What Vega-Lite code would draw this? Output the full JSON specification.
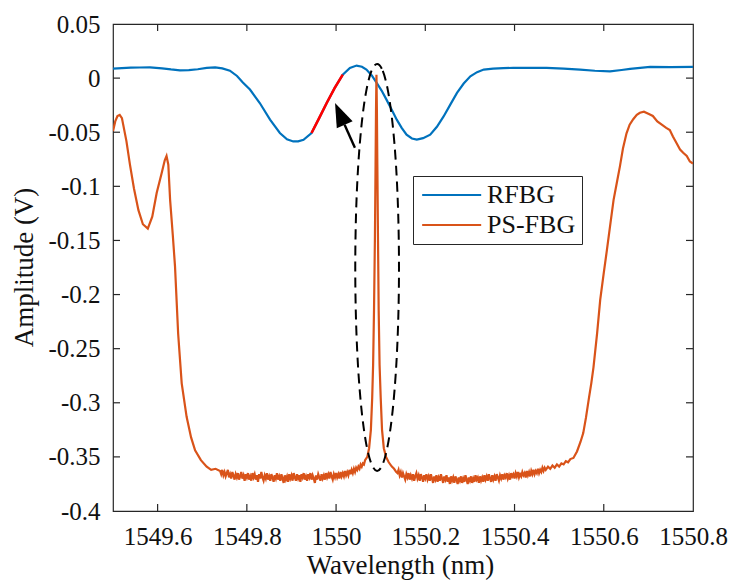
{
  "$schema": "https://vega.github.io/schema/vega-lite/v6.json",
  "autosize": "none",
  "width": 580,
  "height": 487,
  "padding": {"left": 113, "top": 24, "right": 38, "bottom": 70},
  "background": "white",
  "datasets": {
    "lines": [
      {"x": 1549.500, "y": 0.0088, "s": "RFBG"},
      {"x": 1549.520, "y": 0.0092, "s": "RFBG"},
      {"x": 1549.540, "y": 0.0096, "s": "RFBG"},
      {"x": 1549.560, "y": 0.0098, "s": "RFBG"},
      {"x": 1549.583, "y": 0.0100, "s": "RFBG"},
      {"x": 1549.610, "y": 0.0090, "s": "RFBG"},
      {"x": 1549.630, "y": 0.0080, "s": "RFBG"},
      {"x": 1549.650, "y": 0.0072, "s": "RFBG"},
      {"x": 1549.670, "y": 0.0074, "s": "RFBG"},
      {"x": 1549.690, "y": 0.0082, "s": "RFBG"},
      {"x": 1549.710, "y": 0.0095, "s": "RFBG"},
      {"x": 1549.729, "y": 0.0100, "s": "RFBG"},
      {"x": 1549.745, "y": 0.0090, "s": "RFBG"},
      {"x": 1549.762, "y": 0.0069, "s": "RFBG"},
      {"x": 1549.778, "y": 0.0020, "s": "RFBG"},
      {"x": 1549.791, "y": -0.0040, "s": "RFBG"},
      {"x": 1549.807, "y": -0.0106, "s": "RFBG"},
      {"x": 1549.829, "y": -0.0230, "s": "RFBG"},
      {"x": 1549.852, "y": -0.0384, "s": "RFBG"},
      {"x": 1549.874, "y": -0.0507, "s": "RFBG"},
      {"x": 1549.890, "y": -0.0565, "s": "RFBG"},
      {"x": 1549.904, "y": -0.0585, "s": "RFBG"},
      {"x": 1549.915, "y": -0.0585, "s": "RFBG"},
      {"x": 1549.927, "y": -0.0570, "s": "RFBG"},
      {"x": 1549.945, "y": -0.0507, "s": "RFBG"},
      {"x": 1549.962, "y": -0.0370, "s": "RFBG"},
      {"x": 1549.979, "y": -0.0230, "s": "RFBG"},
      {"x": 1549.997, "y": -0.0090, "s": "RFBG"},
      {"x": 1550.015, "y": 0.0032, "s": "RFBG"},
      {"x": 1550.031, "y": 0.0094, "s": "RFBG"},
      {"x": 1550.046, "y": 0.0116, "s": "RFBG"},
      {"x": 1550.058, "y": 0.0105, "s": "RFBG"},
      {"x": 1550.068, "y": 0.0079, "s": "RFBG"},
      {"x": 1550.080, "y": 0.0025, "s": "RFBG"},
      {"x": 1550.091, "y": -0.0044, "s": "RFBG"},
      {"x": 1550.102, "y": -0.0115, "s": "RFBG"},
      {"x": 1550.113, "y": -0.0199, "s": "RFBG"},
      {"x": 1550.125, "y": -0.0295, "s": "RFBG"},
      {"x": 1550.136, "y": -0.0384, "s": "RFBG"},
      {"x": 1550.147, "y": -0.0460, "s": "RFBG"},
      {"x": 1550.158, "y": -0.0523, "s": "RFBG"},
      {"x": 1550.170, "y": -0.0558, "s": "RFBG"},
      {"x": 1550.181, "y": -0.0569, "s": "RFBG"},
      {"x": 1550.195, "y": -0.0555, "s": "RFBG"},
      {"x": 1550.211, "y": -0.0523, "s": "RFBG"},
      {"x": 1550.226, "y": -0.0450, "s": "RFBG"},
      {"x": 1550.241, "y": -0.0354, "s": "RFBG"},
      {"x": 1550.256, "y": -0.0245, "s": "RFBG"},
      {"x": 1550.271, "y": -0.0137, "s": "RFBG"},
      {"x": 1550.286, "y": -0.0050, "s": "RFBG"},
      {"x": 1550.301, "y": 0.0017, "s": "RFBG"},
      {"x": 1550.316, "y": 0.0055, "s": "RFBG"},
      {"x": 1550.331, "y": 0.0079, "s": "RFBG"},
      {"x": 1550.352, "y": 0.0087, "s": "RFBG"},
      {"x": 1550.375, "y": 0.0093, "s": "RFBG"},
      {"x": 1550.397, "y": 0.0094, "s": "RFBG"},
      {"x": 1550.435, "y": 0.0095, "s": "RFBG"},
      {"x": 1550.472, "y": 0.0094, "s": "RFBG"},
      {"x": 1550.510, "y": 0.0088, "s": "RFBG"},
      {"x": 1550.547, "y": 0.0079, "s": "RFBG"},
      {"x": 1550.580, "y": 0.0068, "s": "RFBG"},
      {"x": 1550.614, "y": 0.0063, "s": "RFBG"},
      {"x": 1550.640, "y": 0.0075, "s": "RFBG"},
      {"x": 1550.659, "y": 0.0085, "s": "RFBG"},
      {"x": 1550.704, "y": 0.0104, "s": "RFBG"},
      {"x": 1550.750, "y": 0.0102, "s": "RFBG"},
      {"x": 1550.800, "y": 0.0104, "s": "RFBG"},

      {"x": 1549.500, "y": -0.049, "s": "PS-FBG"},
      {"x": 1549.505, "y": -0.040, "s": "PS-FBG"},
      {"x": 1549.510, "y": -0.035, "s": "PS-FBG"},
      {"x": 1549.515, "y": -0.034, "s": "PS-FBG"},
      {"x": 1549.520, "y": -0.037, "s": "PS-FBG"},
      {"x": 1549.530, "y": -0.058, "s": "PS-FBG"},
      {"x": 1549.538, "y": -0.080, "s": "PS-FBG"},
      {"x": 1549.547, "y": -0.102, "s": "PS-FBG"},
      {"x": 1549.557, "y": -0.122, "s": "PS-FBG"},
      {"x": 1549.567, "y": -0.135, "s": "PS-FBG"},
      {"x": 1549.578, "y": -0.139, "s": "PS-FBG"},
      {"x": 1549.588, "y": -0.128, "s": "PS-FBG"},
      {"x": 1549.598, "y": -0.106, "s": "PS-FBG"},
      {"x": 1549.609, "y": -0.088, "s": "PS-FBG"},
      {"x": 1549.616, "y": -0.076, "s": "PS-FBG"},
      {"x": 1549.620, "y": -0.072, "s": "PS-FBG"},
      {"x": 1549.624, "y": -0.080, "s": "PS-FBG"},
      {"x": 1549.628, "y": -0.1125, "s": "PS-FBG"},
      {"x": 1549.634, "y": -0.145, "s": "PS-FBG"},
      {"x": 1549.639, "y": -0.174, "s": "PS-FBG"},
      {"x": 1549.646, "y": -0.236, "s": "PS-FBG"},
      {"x": 1549.654, "y": -0.282, "s": "PS-FBG"},
      {"x": 1549.665, "y": -0.313, "s": "PS-FBG"},
      {"x": 1549.675, "y": -0.332, "s": "PS-FBG"},
      {"x": 1549.684, "y": -0.344, "s": "PS-FBG"},
      {"x": 1549.697, "y": -0.353, "s": "PS-FBG"},
      {"x": 1549.710, "y": -0.359, "s": "PS-FBG"},
      {"x": 1549.720, "y": -0.362, "s": "PS-FBG"},
      {"x": 1549.730, "y": -0.361, "s": "PS-FBG"},
      {"x": 1549.7400, "y": -0.363, "s": "PS-FBG"},
      {"x": 1549.7425, "y": -0.366, "s": "PS-FBG"},
      {"x": 1549.7450, "y": -0.362, "s": "PS-FBG"},
      {"x": 1549.7475, "y": -0.367, "s": "PS-FBG"},
      {"x": 1549.7500, "y": -0.364, "s": "PS-FBG"},
      {"x": 1549.7525, "y": -0.368, "s": "PS-FBG"},
      {"x": 1549.7550, "y": -0.365, "s": "PS-FBG"},
      {"x": 1549.7575, "y": -0.362, "s": "PS-FBG"},
      {"x": 1549.7600, "y": -0.369, "s": "PS-FBG"},
      {"x": 1549.7625, "y": -0.366, "s": "PS-FBG"},
      {"x": 1549.7650, "y": -0.370, "s": "PS-FBG"},
      {"x": 1549.7675, "y": -0.364, "s": "PS-FBG"},
      {"x": 1549.7700, "y": -0.367, "s": "PS-FBG"},
      {"x": 1549.7725, "y": -0.371, "s": "PS-FBG"},
      {"x": 1549.7750, "y": -0.366, "s": "PS-FBG"},
      {"x": 1549.7775, "y": -0.369, "s": "PS-FBG"},
      {"x": 1549.7800, "y": -0.365, "s": "PS-FBG"},
      {"x": 1549.7825, "y": -0.371, "s": "PS-FBG"},
      {"x": 1549.7850, "y": -0.368, "s": "PS-FBG"},
      {"x": 1549.7875, "y": -0.364, "s": "PS-FBG"},
      {"x": 1549.7900, "y": -0.370, "s": "PS-FBG"},
      {"x": 1549.7925, "y": -0.367, "s": "PS-FBG"},
      {"x": 1549.7950, "y": -0.372, "s": "PS-FBG"},
      {"x": 1549.7975, "y": -0.366, "s": "PS-FBG"},
      {"x": 1549.8000, "y": -0.369, "s": "PS-FBG"},
      {"x": 1549.8025, "y": -0.365, "s": "PS-FBG"},
      {"x": 1549.8050, "y": -0.371, "s": "PS-FBG"},
      {"x": 1549.8075, "y": -0.368, "s": "PS-FBG"},
      {"x": 1549.8100, "y": -0.372, "s": "PS-FBG"},
      {"x": 1549.8125, "y": -0.365, "s": "PS-FBG"},
      {"x": 1549.8150, "y": -0.369, "s": "PS-FBG"},
      {"x": 1549.8175, "y": -0.366, "s": "PS-FBG"},
      {"x": 1549.8200, "y": -0.371, "s": "PS-FBG"},
      {"x": 1549.8225, "y": -0.367, "s": "PS-FBG"},
      {"x": 1549.8250, "y": -0.373, "s": "PS-FBG"},
      {"x": 1549.8275, "y": -0.366, "s": "PS-FBG"},
      {"x": 1549.8300, "y": -0.370, "s": "PS-FBG"},
      {"x": 1549.8325, "y": -0.364, "s": "PS-FBG"},
      {"x": 1549.8350, "y": -0.369, "s": "PS-FBG"},
      {"x": 1549.8375, "y": -0.372, "s": "PS-FBG"},
      {"x": 1549.8400, "y": -0.367, "s": "PS-FBG"},
      {"x": 1549.8425, "y": -0.370, "s": "PS-FBG"},
      {"x": 1549.8450, "y": -0.365, "s": "PS-FBG"},
      {"x": 1549.8475, "y": -0.371, "s": "PS-FBG"},
      {"x": 1549.8500, "y": -0.368, "s": "PS-FBG"},
      {"x": 1549.8525, "y": -0.372, "s": "PS-FBG"},
      {"x": 1549.8550, "y": -0.366, "s": "PS-FBG"},
      {"x": 1549.8575, "y": -0.369, "s": "PS-FBG"},
      {"x": 1549.8600, "y": -0.373, "s": "PS-FBG"},
      {"x": 1549.8625, "y": -0.367, "s": "PS-FBG"},
      {"x": 1549.8650, "y": -0.370, "s": "PS-FBG"},
      {"x": 1549.8675, "y": -0.365, "s": "PS-FBG"},
      {"x": 1549.8700, "y": -0.371, "s": "PS-FBG"},
      {"x": 1549.8725, "y": -0.368, "s": "PS-FBG"},
      {"x": 1549.8750, "y": -0.372, "s": "PS-FBG"},
      {"x": 1549.8775, "y": -0.366, "s": "PS-FBG"},
      {"x": 1549.8800, "y": -0.370, "s": "PS-FBG"},
      {"x": 1549.8825, "y": -0.374, "s": "PS-FBG"},
      {"x": 1549.8850, "y": -0.367, "s": "PS-FBG"},
      {"x": 1549.8875, "y": -0.371, "s": "PS-FBG"},
      {"x": 1549.8900, "y": -0.368, "s": "PS-FBG"},
      {"x": 1549.8925, "y": -0.373, "s": "PS-FBG"},
      {"x": 1549.8950, "y": -0.366, "s": "PS-FBG"},
      {"x": 1549.8975, "y": -0.370, "s": "PS-FBG"},
      {"x": 1549.9000, "y": -0.367, "s": "PS-FBG"},
      {"x": 1549.9025, "y": -0.372, "s": "PS-FBG"},
      {"x": 1549.9050, "y": -0.365, "s": "PS-FBG"},
      {"x": 1549.9075, "y": -0.369, "s": "PS-FBG"},
      {"x": 1549.9100, "y": -0.372, "s": "PS-FBG"},
      {"x": 1549.9125, "y": -0.366, "s": "PS-FBG"},
      {"x": 1549.9150, "y": -0.370, "s": "PS-FBG"},
      {"x": 1549.9175, "y": -0.367, "s": "PS-FBG"},
      {"x": 1549.9200, "y": -0.373, "s": "PS-FBG"},
      {"x": 1549.9225, "y": -0.366, "s": "PS-FBG"},
      {"x": 1549.9250, "y": -0.369, "s": "PS-FBG"},
      {"x": 1549.9275, "y": -0.365, "s": "PS-FBG"},
      {"x": 1549.9300, "y": -0.371, "s": "PS-FBG"},
      {"x": 1549.9325, "y": -0.368, "s": "PS-FBG"},
      {"x": 1549.9350, "y": -0.372, "s": "PS-FBG"},
      {"x": 1549.9375, "y": -0.366, "s": "PS-FBG"},
      {"x": 1549.9400, "y": -0.369, "s": "PS-FBG"},
      {"x": 1549.9425, "y": -0.365, "s": "PS-FBG"},
      {"x": 1549.9450, "y": -0.371, "s": "PS-FBG"},
      {"x": 1549.9475, "y": -0.367, "s": "PS-FBG"},
      {"x": 1549.9500, "y": -0.370, "s": "PS-FBG"},
      {"x": 1549.9525, "y": -0.374, "s": "PS-FBG"},
      {"x": 1549.9550, "y": -0.367, "s": "PS-FBG"},
      {"x": 1549.9575, "y": -0.371, "s": "PS-FBG"},
      {"x": 1549.9600, "y": -0.366, "s": "PS-FBG"},
      {"x": 1549.9625, "y": -0.369, "s": "PS-FBG"},
      {"x": 1549.9650, "y": -0.372, "s": "PS-FBG"},
      {"x": 1549.9675, "y": -0.366, "s": "PS-FBG"},
      {"x": 1549.9700, "y": -0.370, "s": "PS-FBG"},
      {"x": 1549.9725, "y": -0.367, "s": "PS-FBG"},
      {"x": 1549.9750, "y": -0.371, "s": "PS-FBG"},
      {"x": 1549.9775, "y": -0.365, "s": "PS-FBG"},
      {"x": 1549.9800, "y": -0.369, "s": "PS-FBG"},
      {"x": 1549.9825, "y": -0.366, "s": "PS-FBG"},
      {"x": 1549.9850, "y": -0.370, "s": "PS-FBG"},
      {"x": 1549.9875, "y": -0.364, "s": "PS-FBG"},
      {"x": 1549.9900, "y": -0.368, "s": "PS-FBG"},
      {"x": 1549.9925, "y": -0.371, "s": "PS-FBG"},
      {"x": 1549.9950, "y": -0.366, "s": "PS-FBG"},
      {"x": 1549.9975, "y": -0.369, "s": "PS-FBG"},
      {"x": 1550.0000, "y": -0.365, "s": "PS-FBG"},
      {"x": 1550.0025, "y": -0.369, "s": "PS-FBG"},
      {"x": 1550.0050, "y": -0.366, "s": "PS-FBG"},
      {"x": 1550.0075, "y": -0.370, "s": "PS-FBG"},
      {"x": 1550.0100, "y": -0.364, "s": "PS-FBG"},
      {"x": 1550.0125, "y": -0.368, "s": "PS-FBG"},
      {"x": 1550.0150, "y": -0.365, "s": "PS-FBG"},
      {"x": 1550.0175, "y": -0.368, "s": "PS-FBG"},
      {"x": 1550.0200, "y": -0.363, "s": "PS-FBG"},
      {"x": 1550.0225, "y": -0.367, "s": "PS-FBG"},
      {"x": 1550.0250, "y": -0.364, "s": "PS-FBG"},
      {"x": 1550.0275, "y": -0.367, "s": "PS-FBG"},
      {"x": 1550.0300, "y": -0.362, "s": "PS-FBG"},
      {"x": 1550.0325, "y": -0.366, "s": "PS-FBG"},
      {"x": 1550.0350, "y": -0.362, "s": "PS-FBG"},
      {"x": 1550.0375, "y": -0.365, "s": "PS-FBG"},
      {"x": 1550.0400, "y": -0.361, "s": "PS-FBG"},
      {"x": 1550.0425, "y": -0.364, "s": "PS-FBG"},
      {"x": 1550.0450, "y": -0.360, "s": "PS-FBG"},
      {"x": 1550.0475, "y": -0.362, "s": "PS-FBG"},
      {"x": 1550.0500, "y": -0.359, "s": "PS-FBG"},
      {"x": 1550.0525, "y": -0.361, "s": "PS-FBG"},
      {"x": 1550.0550, "y": -0.357, "s": "PS-FBG"},
      {"x": 1550.0575, "y": -0.359, "s": "PS-FBG"},
      {"x": 1550.0600, "y": -0.356, "s": "PS-FBG"},
      {"x": 1550.0625, "y": -0.357, "s": "PS-FBG"},
      {"x": 1550.0650, "y": -0.353, "s": "PS-FBG"},
      {"x": 1550.070, "y": -0.350, "s": "PS-FBG"},
      {"x": 1550.074, "y": -0.342, "s": "PS-FBG"},
      {"x": 1550.078, "y": -0.325, "s": "PS-FBG"},
      {"x": 1550.081, "y": -0.295, "s": "PS-FBG"},
      {"x": 1550.083, "y": -0.265, "s": "PS-FBG"},
      {"x": 1550.085, "y": -0.215, "s": "PS-FBG"},
      {"x": 1550.087, "y": -0.150, "s": "PS-FBG"},
      {"x": 1550.0885, "y": -0.080, "s": "PS-FBG"},
      {"x": 1550.0895, "y": -0.030, "s": "PS-FBG"},
      {"x": 1550.0905, "y": 0.003, "s": "PS-FBG"},
      {"x": 1550.0915, "y": -0.030, "s": "PS-FBG"},
      {"x": 1550.0925, "y": -0.080, "s": "PS-FBG"},
      {"x": 1550.094, "y": -0.150, "s": "PS-FBG"},
      {"x": 1550.0955, "y": -0.215, "s": "PS-FBG"},
      {"x": 1550.0975, "y": -0.265, "s": "PS-FBG"},
      {"x": 1550.100, "y": -0.295, "s": "PS-FBG"},
      {"x": 1550.103, "y": -0.325, "s": "PS-FBG"},
      {"x": 1550.107, "y": -0.342, "s": "PS-FBG"},
      {"x": 1550.112, "y": -0.350, "s": "PS-FBG"},
      {"x": 1550.118, "y": -0.355, "s": "PS-FBG"},
      {"x": 1550.125, "y": -0.359, "s": "PS-FBG"},
      {"x": 1550.130, "y": -0.361, "s": "PS-FBG"},
      {"x": 1550.1350, "y": -0.364, "s": "PS-FBG"},
      {"x": 1550.1375, "y": -0.365, "s": "PS-FBG"},
      {"x": 1550.1400, "y": -0.362, "s": "PS-FBG"},
      {"x": 1550.1425, "y": -0.367, "s": "PS-FBG"},
      {"x": 1550.1450, "y": -0.364, "s": "PS-FBG"},
      {"x": 1550.1475, "y": -0.369, "s": "PS-FBG"},
      {"x": 1550.1500, "y": -0.365, "s": "PS-FBG"},
      {"x": 1550.1525, "y": -0.368, "s": "PS-FBG"},
      {"x": 1550.1550, "y": -0.371, "s": "PS-FBG"},
      {"x": 1550.1575, "y": -0.366, "s": "PS-FBG"},
      {"x": 1550.1600, "y": -0.369, "s": "PS-FBG"},
      {"x": 1550.1625, "y": -0.365, "s": "PS-FBG"},
      {"x": 1550.1650, "y": -0.371, "s": "PS-FBG"},
      {"x": 1550.1675, "y": -0.367, "s": "PS-FBG"},
      {"x": 1550.1700, "y": -0.370, "s": "PS-FBG"},
      {"x": 1550.1725, "y": -0.366, "s": "PS-FBG"},
      {"x": 1550.1750, "y": -0.372, "s": "PS-FBG"},
      {"x": 1550.1775, "y": -0.368, "s": "PS-FBG"},
      {"x": 1550.1800, "y": -0.365, "s": "PS-FBG"},
      {"x": 1550.1825, "y": -0.370, "s": "PS-FBG"},
      {"x": 1550.1850, "y": -0.367, "s": "PS-FBG"},
      {"x": 1550.1875, "y": -0.372, "s": "PS-FBG"},
      {"x": 1550.1900, "y": -0.366, "s": "PS-FBG"},
      {"x": 1550.1925, "y": -0.369, "s": "PS-FBG"},
      {"x": 1550.1950, "y": -0.373, "s": "PS-FBG"},
      {"x": 1550.1975, "y": -0.367, "s": "PS-FBG"},
      {"x": 1550.2000, "y": -0.370, "s": "PS-FBG"},
      {"x": 1550.2025, "y": -0.366, "s": "PS-FBG"},
      {"x": 1550.2050, "y": -0.371, "s": "PS-FBG"},
      {"x": 1550.2075, "y": -0.368, "s": "PS-FBG"},
      {"x": 1550.2100, "y": -0.372, "s": "PS-FBG"},
      {"x": 1550.2125, "y": -0.366, "s": "PS-FBG"},
      {"x": 1550.2150, "y": -0.370, "s": "PS-FBG"},
      {"x": 1550.2175, "y": -0.374, "s": "PS-FBG"},
      {"x": 1550.2200, "y": -0.368, "s": "PS-FBG"},
      {"x": 1550.2225, "y": -0.371, "s": "PS-FBG"},
      {"x": 1550.2250, "y": -0.367, "s": "PS-FBG"},
      {"x": 1550.2275, "y": -0.373, "s": "PS-FBG"},
      {"x": 1550.2300, "y": -0.369, "s": "PS-FBG"},
      {"x": 1550.2325, "y": -0.372, "s": "PS-FBG"},
      {"x": 1550.2350, "y": -0.366, "s": "PS-FBG"},
      {"x": 1550.2375, "y": -0.370, "s": "PS-FBG"},
      {"x": 1550.2400, "y": -0.374, "s": "PS-FBG"},
      {"x": 1550.2425, "y": -0.368, "s": "PS-FBG"},
      {"x": 1550.2450, "y": -0.371, "s": "PS-FBG"},
      {"x": 1550.2475, "y": -0.367, "s": "PS-FBG"},
      {"x": 1550.2500, "y": -0.373, "s": "PS-FBG"},
      {"x": 1550.2525, "y": -0.369, "s": "PS-FBG"},
      {"x": 1550.2550, "y": -0.375, "s": "PS-FBG"},
      {"x": 1550.2575, "y": -0.368, "s": "PS-FBG"},
      {"x": 1550.2600, "y": -0.372, "s": "PS-FBG"},
      {"x": 1550.2625, "y": -0.369, "s": "PS-FBG"},
      {"x": 1550.2650, "y": -0.374, "s": "PS-FBG"},
      {"x": 1550.2675, "y": -0.368, "s": "PS-FBG"},
      {"x": 1550.2700, "y": -0.371, "s": "PS-FBG"},
      {"x": 1550.2725, "y": -0.375, "s": "PS-FBG"},
      {"x": 1550.2750, "y": -0.369, "s": "PS-FBG"},
      {"x": 1550.2775, "y": -0.372, "s": "PS-FBG"},
      {"x": 1550.2800, "y": -0.368, "s": "PS-FBG"},
      {"x": 1550.2825, "y": -0.374, "s": "PS-FBG"},
      {"x": 1550.2850, "y": -0.370, "s": "PS-FBG"},
      {"x": 1550.2875, "y": -0.373, "s": "PS-FBG"},
      {"x": 1550.2900, "y": -0.367, "s": "PS-FBG"},
      {"x": 1550.2925, "y": -0.371, "s": "PS-FBG"},
      {"x": 1550.2950, "y": -0.375, "s": "PS-FBG"},
      {"x": 1550.2975, "y": -0.369, "s": "PS-FBG"},
      {"x": 1550.3000, "y": -0.372, "s": "PS-FBG"},
      {"x": 1550.3025, "y": -0.368, "s": "PS-FBG"},
      {"x": 1550.3050, "y": -0.374, "s": "PS-FBG"},
      {"x": 1550.3075, "y": -0.370, "s": "PS-FBG"},
      {"x": 1550.3100, "y": -0.373, "s": "PS-FBG"},
      {"x": 1550.3125, "y": -0.367, "s": "PS-FBG"},
      {"x": 1550.3150, "y": -0.371, "s": "PS-FBG"},
      {"x": 1550.3175, "y": -0.369, "s": "PS-FBG"},
      {"x": 1550.3200, "y": -0.374, "s": "PS-FBG"},
      {"x": 1550.3225, "y": -0.368, "s": "PS-FBG"},
      {"x": 1550.3250, "y": -0.372, "s": "PS-FBG"},
      {"x": 1550.3275, "y": -0.369, "s": "PS-FBG"},
      {"x": 1550.3300, "y": -0.373, "s": "PS-FBG"},
      {"x": 1550.3325, "y": -0.367, "s": "PS-FBG"},
      {"x": 1550.3350, "y": -0.371, "s": "PS-FBG"},
      {"x": 1550.3375, "y": -0.368, "s": "PS-FBG"},
      {"x": 1550.3400, "y": -0.372, "s": "PS-FBG"},
      {"x": 1550.3425, "y": -0.366, "s": "PS-FBG"},
      {"x": 1550.3450, "y": -0.370, "s": "PS-FBG"},
      {"x": 1550.3475, "y": -0.373, "s": "PS-FBG"},
      {"x": 1550.3500, "y": -0.367, "s": "PS-FBG"},
      {"x": 1550.3525, "y": -0.371, "s": "PS-FBG"},
      {"x": 1550.3550, "y": -0.368, "s": "PS-FBG"},
      {"x": 1550.3575, "y": -0.372, "s": "PS-FBG"},
      {"x": 1550.3600, "y": -0.366, "s": "PS-FBG"},
      {"x": 1550.3625, "y": -0.369, "s": "PS-FBG"},
      {"x": 1550.3650, "y": -0.372, "s": "PS-FBG"},
      {"x": 1550.3675, "y": -0.367, "s": "PS-FBG"},
      {"x": 1550.3700, "y": -0.370, "s": "PS-FBG"},
      {"x": 1550.3725, "y": -0.366, "s": "PS-FBG"},
      {"x": 1550.3750, "y": -0.371, "s": "PS-FBG"},
      {"x": 1550.3775, "y": -0.367, "s": "PS-FBG"},
      {"x": 1550.3800, "y": -0.369, "s": "PS-FBG"},
      {"x": 1550.3825, "y": -0.365, "s": "PS-FBG"},
      {"x": 1550.3850, "y": -0.370, "s": "PS-FBG"},
      {"x": 1550.3875, "y": -0.367, "s": "PS-FBG"},
      {"x": 1550.3900, "y": -0.371, "s": "PS-FBG"},
      {"x": 1550.3925, "y": -0.365, "s": "PS-FBG"},
      {"x": 1550.3950, "y": -0.368, "s": "PS-FBG"},
      {"x": 1550.3975, "y": -0.366, "s": "PS-FBG"},
      {"x": 1550.4000, "y": -0.370, "s": "PS-FBG"},
      {"x": 1550.4025, "y": -0.365, "s": "PS-FBG"},
      {"x": 1550.4050, "y": -0.368, "s": "PS-FBG"},
      {"x": 1550.4075, "y": -0.364, "s": "PS-FBG"},
      {"x": 1550.4100, "y": -0.369, "s": "PS-FBG"},
      {"x": 1550.4125, "y": -0.366, "s": "PS-FBG"},
      {"x": 1550.4150, "y": -0.368, "s": "PS-FBG"},
      {"x": 1550.4175, "y": -0.364, "s": "PS-FBG"},
      {"x": 1550.4200, "y": -0.367, "s": "PS-FBG"},
      {"x": 1550.4225, "y": -0.365, "s": "PS-FBG"},
      {"x": 1550.4250, "y": -0.369, "s": "PS-FBG"},
      {"x": 1550.4275, "y": -0.363, "s": "PS-FBG"},
      {"x": 1550.4300, "y": -0.367, "s": "PS-FBG"},
      {"x": 1550.4325, "y": -0.364, "s": "PS-FBG"},
      {"x": 1550.4350, "y": -0.368, "s": "PS-FBG"},
      {"x": 1550.4375, "y": -0.363, "s": "PS-FBG"},
      {"x": 1550.4400, "y": -0.366, "s": "PS-FBG"},
      {"x": 1550.4425, "y": -0.362, "s": "PS-FBG"},
      {"x": 1550.4450, "y": -0.366, "s": "PS-FBG"},
      {"x": 1550.4475, "y": -0.363, "s": "PS-FBG"},
      {"x": 1550.4500, "y": -0.365, "s": "PS-FBG"},
      {"x": 1550.4525, "y": -0.361, "s": "PS-FBG"},
      {"x": 1550.4550, "y": -0.365, "s": "PS-FBG"},
      {"x": 1550.4575, "y": -0.362, "s": "PS-FBG"},
      {"x": 1550.4600, "y": -0.364, "s": "PS-FBG"},
      {"x": 1550.4625, "y": -0.360, "s": "PS-FBG"},
      {"x": 1550.4650, "y": -0.363, "s": "PS-FBG"},
      {"x": 1550.4675, "y": -0.360, "s": "PS-FBG"},
      {"x": 1550.4700, "y": -0.362, "s": "PS-FBG"},
      {"x": 1550.4750, "y": -0.359, "s": "PS-FBG"},
      {"x": 1550.4800, "y": -0.361, "s": "PS-FBG"},
      {"x": 1550.4850, "y": -0.358, "s": "PS-FBG"},
      {"x": 1550.4900, "y": -0.360, "s": "PS-FBG"},
      {"x": 1550.4950, "y": -0.357, "s": "PS-FBG"},
      {"x": 1550.5000, "y": -0.359, "s": "PS-FBG"},
      {"x": 1550.5050, "y": -0.356, "s": "PS-FBG"},
      {"x": 1550.5100, "y": -0.357, "s": "PS-FBG"},
      {"x": 1550.5150, "y": -0.354, "s": "PS-FBG"},
      {"x": 1550.5200, "y": -0.355, "s": "PS-FBG"},
      {"x": 1550.5250, "y": -0.352, "s": "PS-FBG"},
      {"x": 1550.532, "y": -0.351, "s": "PS-FBG"},
      {"x": 1550.540, "y": -0.345, "s": "PS-FBG"},
      {"x": 1550.548, "y": -0.336, "s": "PS-FBG"},
      {"x": 1550.554, "y": -0.328, "s": "PS-FBG"},
      {"x": 1550.560, "y": -0.314, "s": "PS-FBG"},
      {"x": 1550.567, "y": -0.295, "s": "PS-FBG"},
      {"x": 1550.572, "y": -0.282, "s": "PS-FBG"},
      {"x": 1550.577, "y": -0.267, "s": "PS-FBG"},
      {"x": 1550.585, "y": -0.236, "s": "PS-FBG"},
      {"x": 1550.592, "y": -0.205, "s": "PS-FBG"},
      {"x": 1550.600, "y": -0.180, "s": "PS-FBG"},
      {"x": 1550.607, "y": -0.159, "s": "PS-FBG"},
      {"x": 1550.615, "y": -0.134, "s": "PS-FBG"},
      {"x": 1550.622, "y": -0.1125, "s": "PS-FBG"},
      {"x": 1550.630, "y": -0.095, "s": "PS-FBG"},
      {"x": 1550.636, "y": -0.082, "s": "PS-FBG"},
      {"x": 1550.643, "y": -0.065, "s": "PS-FBG"},
      {"x": 1550.651, "y": -0.051, "s": "PS-FBG"},
      {"x": 1550.658, "y": -0.043, "s": "PS-FBG"},
      {"x": 1550.666, "y": -0.038, "s": "PS-FBG"},
      {"x": 1550.674, "y": -0.034, "s": "PS-FBG"},
      {"x": 1550.681, "y": -0.032, "s": "PS-FBG"},
      {"x": 1550.690, "y": -0.031, "s": "PS-FBG"},
      {"x": 1550.700, "y": -0.033, "s": "PS-FBG"},
      {"x": 1550.710, "y": -0.035, "s": "PS-FBG"},
      {"x": 1550.720, "y": -0.040, "s": "PS-FBG"},
      {"x": 1550.730, "y": -0.043, "s": "PS-FBG"},
      {"x": 1550.740, "y": -0.046, "s": "PS-FBG"},
      {"x": 1550.748, "y": -0.048, "s": "PS-FBG"},
      {"x": 1550.755, "y": -0.054, "s": "PS-FBG"},
      {"x": 1550.763, "y": -0.060, "s": "PS-FBG"},
      {"x": 1550.771, "y": -0.066, "s": "PS-FBG"},
      {"x": 1550.778, "y": -0.069, "s": "PS-FBG"},
      {"x": 1550.786, "y": -0.072, "s": "PS-FBG"},
      {"x": 1550.793, "y": -0.077, "s": "PS-FBG"},
      {"x": 1550.800, "y": -0.079, "s": "PS-FBG"}
    ],
    "red": [
      {"x": 1549.945, "y": -0.0507},
      {"x": 1549.962, "y": -0.0370},
      {"x": 1549.979, "y": -0.0230},
      {"x": 1549.997, "y": -0.0090},
      {"x": 1550.015, "y": 0.0032}
    ],
    "ellipse": [
      {"i": 0, "x": 1550.0920, "y": 0.0130},
      {"i": 1, "x": 1550.1047, "y": 0.0066},
      {"i": 2, "x": 1550.1165, "y": -0.0122},
      {"i": 3, "x": 1550.1266, "y": -0.0421},
      {"i": 4, "x": 1550.1344, "y": -0.0810},
      {"i": 5, "x": 1550.1393, "y": -0.1263},
      {"i": 6, "x": 1550.1410, "y": -0.1750},
      {"i": 7, "x": 1550.1393, "y": -0.2237},
      {"i": 8, "x": 1550.1344, "y": -0.2690},
      {"i": 9, "x": 1550.1266, "y": -0.3079},
      {"i": 10, "x": 1550.1165, "y": -0.3378},
      {"i": 11, "x": 1550.1047, "y": -0.3566},
      {"i": 12, "x": 1550.0920, "y": -0.3630},
      {"i": 13, "x": 1550.0793, "y": -0.3566},
      {"i": 14, "x": 1550.0675, "y": -0.3378},
      {"i": 15, "x": 1550.0574, "y": -0.3079},
      {"i": 16, "x": 1550.0496, "y": -0.2690},
      {"i": 17, "x": 1550.0447, "y": -0.2237},
      {"i": 18, "x": 1550.0430, "y": -0.1750},
      {"i": 19, "x": 1550.0447, "y": -0.1263},
      {"i": 20, "x": 1550.0496, "y": -0.0810},
      {"i": 21, "x": 1550.0574, "y": -0.0421},
      {"i": 22, "x": 1550.0675, "y": -0.0122},
      {"i": 23, "x": 1550.0793, "y": 0.0066}
    ],
    "arrow": [
      {"x": 1550.0191, "y": -0.0431, "x2": 1550.0422, "y2": -0.0644}
    ],
    "head": [
      {"x": 1550.0085, "y": -0.0330}
    ],
    "xticks": [
      {"x": 1549.6, "y": -0.4}, {"x": 1549.8, "y": -0.4}, {"x": 1550.0, "y": -0.4},
      {"x": 1550.2, "y": -0.4}, {"x": 1550.4, "y": -0.4}, {"x": 1550.6, "y": -0.4},
      {"x": 1549.6, "y": 0.05}, {"x": 1549.8, "y": 0.05}, {"x": 1550.0, "y": 0.05},
      {"x": 1550.2, "y": 0.05}, {"x": 1550.4, "y": 0.05}, {"x": 1550.6, "y": 0.05}
    ],
    "yticks": [
      {"x": 1549.5, "y": -0.35}, {"x": 1549.5, "y": -0.3}, {"x": 1549.5, "y": -0.25},
      {"x": 1549.5, "y": -0.2}, {"x": 1549.5, "y": -0.15}, {"x": 1549.5, "y": -0.1},
      {"x": 1549.5, "y": -0.05}, {"x": 1549.5, "y": 0},
      {"x": 1550.8, "y": -0.35}, {"x": 1550.8, "y": -0.3}, {"x": 1550.8, "y": -0.25},
      {"x": 1550.8, "y": -0.2}, {"x": 1550.8, "y": -0.15}, {"x": 1550.8, "y": -0.1},
      {"x": 1550.8, "y": -0.05}, {"x": 1550.8, "y": 0}
    ]
  },
  "layer": [
    {
      "data": {"name": "lines"},
      "mark": {"type": "line", "strokeWidth": 2.2, "clip": true},
      "encoding": {
        "x": {
          "field": "x", "type": "quantitative",
          "scale": {"domain": [1549.5, 1550.8], "nice": false, "zero": false},
          "axis": {
            "title": "Wavelength (nm)",
            "values": [1549.6, 1549.8, 1550, 1550.2, 1550.4, 1550.6, 1550.8],
            "labelExpr": "format(datum.value, '~g')",
            "labelFont": "Liberation Serif",
            "titleFont": "Liberation Serif",
            "labelFontSize": 25,
            "titleFontSize": 27,
            "labelPadding": 13,
            "labelOverlap": false,
            "labelFlush": false,
            "ticks": false,
            "titleX": 287,
            "titleY": 62,
            "titleBaseline": "alphabetic"
          }
        },
        "y": {
          "field": "y", "type": "quantitative",
          "scale": {"domain": [-0.4, 0.05], "nice": false, "zero": false},
          "axis": {
            "title": "Amplitude (V)",
            "values": [-0.4, -0.35, -0.3, -0.25, -0.2, -0.15, -0.1, -0.05, 0, 0.05],
            "labelExpr": "(datum.value < 0 ? '-' : '') + format(abs(datum.value), '~g')",
            "labelFont": "Liberation Serif",
            "titleFont": "Liberation Serif",
            "labelFontSize": 25,
            "titleFontSize": 27,
            "labelPadding": 13,
            "labelOverlap": false,
            "labelFlush": false,
            "ticks": false,
            "titleX": -80.5,
            "titleY": 243,
            "titleAngle": -90,
            "titleAlign": "center",
            "titleBaseline": "alphabetic"
          }
        },
        "color": {
          "field": "s", "type": "nominal",
          "scale": {"domain": ["RFBG", "PS-FBG"], "range": ["#0072BD", "#D95319"]},
          "legend": {
            "title": null,
            "orient": "none",
            "legendX": 300,
            "legendY": 152,
            "symbolType": "M-1,0L5,0",
            "symbolSize": 387,
            "symbolStrokeWidth": 2,
            "labelFont": "Liberation Serif",
            "labelFontSize": 26,
            "labelColor": "#111111",
            "labelOffset": 42,
            "labelLimit": 0,
            "rowPadding": 4,
            "padding": 6,
            "strokeColor": "#262626",
            "fillColor": "white"
          }
        }
      }
    },
    {
      "data": {"name": "red"},
      "mark": {"type": "line", "color": "#FF0000", "strokeWidth": 2.6, "clip": true},
      "encoding": {
        "x": {"field": "x", "type": "quantitative", "scale": {"domain": [1549.5, 1550.8], "nice": false, "zero": false}, "axis": {"labelFont": "Liberation Serif", "titleFont": "Liberation Serif"}},
        "y": {"field": "y", "type": "quantitative", "scale": {"domain": [-0.4, 0.05], "nice": false, "zero": false}, "axis": {"labelFont": "Liberation Serif", "titleFont": "Liberation Serif"}}
      }
    },
    {
      "data": {"name": "ellipse"},
      "mark": {"type": "line", "color": "#000000", "strokeWidth": 2, "strokeDash": [10, 6], "interpolate": "cardinal-closed", "clip": true},
      "encoding": {
        "order": {"field": "i", "type": "quantitative"},
        "x": {"field": "x", "type": "quantitative", "scale": {"domain": [1549.5, 1550.8], "nice": false, "zero": false}, "axis": {"labelFont": "Liberation Serif", "titleFont": "Liberation Serif"}},
        "y": {"field": "y", "type": "quantitative", "scale": {"domain": [-0.4, 0.05], "nice": false, "zero": false}, "axis": {"labelFont": "Liberation Serif", "titleFont": "Liberation Serif"}}
      }
    },
    {
      "data": {"name": "arrow"},
      "mark": {"type": "rule", "color": "#000000", "strokeWidth": 2.4},
      "encoding": {
        "x": {"field": "x", "type": "quantitative", "scale": {"domain": [1549.5, 1550.8], "nice": false, "zero": false}, "axis": {"labelFont": "Liberation Serif", "titleFont": "Liberation Serif"}},
        "y": {"field": "y", "type": "quantitative", "scale": {"domain": [-0.4, 0.05], "nice": false, "zero": false}, "axis": {"labelFont": "Liberation Serif", "titleFont": "Liberation Serif"}},
        "x2": {"field": "x2"},
        "y2": {"field": "y2"}
      }
    },
    {
      "data": {"name": "head"},
      "mark": {"type": "point", "shape": "M0,-1L0.73,1L-0.73,1Z", "filled": true, "color": "#000000", "opacity": 1, "size": 566, "angle": 336},
      "encoding": {
        "x": {"field": "x", "type": "quantitative", "scale": {"domain": [1549.5, 1550.8], "nice": false, "zero": false}, "axis": {"labelFont": "Liberation Serif", "titleFont": "Liberation Serif"}},
        "y": {"field": "y", "type": "quantitative", "scale": {"domain": [-0.4, 0.05], "nice": false, "zero": false}, "axis": {"labelFont": "Liberation Serif", "titleFont": "Liberation Serif"}}
      }
    },
    {
      "data": {"name": "xticks"},
      "mark": {"type": "tick", "orient": "vertical", "size": 14, "thickness": 1.2, "color": "#262626", "opacity": 1, "clip": true},
      "encoding": {
        "x": {"field": "x", "type": "quantitative", "scale": {"domain": [1549.5, 1550.8], "nice": false, "zero": false}, "axis": {"labelFont": "Liberation Serif", "titleFont": "Liberation Serif"}},
        "y": {"field": "y", "type": "quantitative", "scale": {"domain": [-0.4, 0.05], "nice": false, "zero": false}, "axis": {"labelFont": "Liberation Serif", "titleFont": "Liberation Serif"}}
      }
    },
    {
      "data": {"name": "yticks"},
      "mark": {"type": "tick", "orient": "horizontal", "size": 14, "thickness": 1.2, "color": "#262626", "opacity": 1, "clip": true},
      "encoding": {
        "x": {"field": "x", "type": "quantitative", "scale": {"domain": [1549.5, 1550.8], "nice": false, "zero": false}, "axis": {"labelFont": "Liberation Serif", "titleFont": "Liberation Serif"}},
        "y": {"field": "y", "type": "quantitative", "scale": {"domain": [-0.4, 0.05], "nice": false, "zero": false}, "axis": {"labelFont": "Liberation Serif", "titleFont": "Liberation Serif"}}
      }
    }
  ],
  "config": {
    "font": "Liberation Serif",
    "view": {"stroke": "#262626", "strokeWidth": 1.2},
    "style": {
      "guide-label": {"font": "Liberation Serif"},
      "guide-title": {"font": "Liberation Serif"}
    },
    "axis": {
      "labelFont": "Liberation Serif",
      "titleFont": "Liberation Serif",
      "labelFontSize": 25,
      "titleFontSize": 27,
      "titleFontWeight": "normal",
      "labelColor": "#111111",
      "titleColor": "#111111",
      "domain": false,
      "grid": false
    }
  }
}
